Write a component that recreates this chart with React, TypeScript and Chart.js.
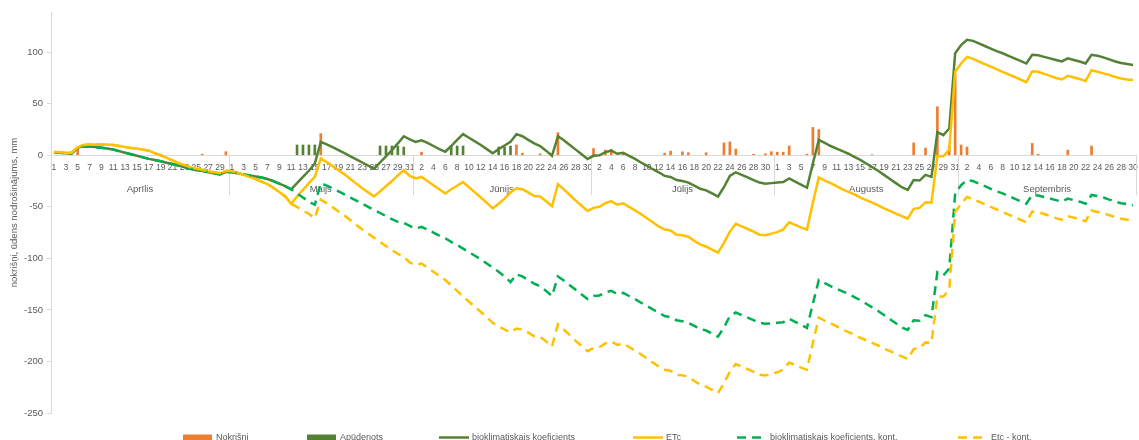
import React, { useEffect, useRef } from 'react';
import { Chart, registerables } from 'chart.js';

Chart.register(...registerables);

const months = ['Aprīlis', 'Maijs', 'Jūnijs', 'Jūlijs', 'Augusts', 'Septembris'];
const monthLengths = [30, 31, 30, 31, 31, 30];
const yTickValues = [-250, -200, -150, -100, -50, 0, 50, 100];
const yAxisTitle = 'nokrišņi, ūdens nodrošinājums, mm';

// Nokrišņi (mm per day), Apr 1 .. Sep 30
const nokrisni = [
  0, 0, 0, 0, 7, 0, 0, 0, 0, 0, 0, 0, 0, 0, 0, 0, 0, 0, 0, 0, 0, 0, 0, 0, 0, 1, 0, 0, 0, 3.5,
  0, 0, 0, 0, 0, 0, 0, 0, 0, 0, 0, 0, 0, 0, 0, 21, 0, 0, 0, 0, 0, 0, 0, 0, 0, 0, 0, 0, 0, 0, 0,
  0, 3, 0, 0, 0, 0, 0, 0, 0, 0, 0, 0, 0, 0, 0, 0, 0, 10, 2, 0, 0, 1.5, 0, 0, 22, 0, 0, 0, 0, 0,
  6.6, 0, 5, 5.8, 0, 2.7, 0, 0, 0, 0, 0, 0, 2, 4, 0, 3.4, 2.5, 0, 0, 2.5, 0, 0, 12, 13, 6, 0, 0, 1, 0, 1.5, 3.5,
  3, 3, 9, 0, 0, 1, 27, 25, 0, 0, 0, 0, 0, 0, 0, 0, 0.5, 0, 0, 0, 0, 0, 0, 12, 0, 7, 0, 47, 0, 9, 78,
  10, 8, 0, 0, 0, 0, 0, 0, 0, 0, 0, 0, 11.5, 1, 0, 0, 0, 0, 5, 0, 0, 0, 9, 0, 0, 0, 0, 0, 0, 0,
];

// Apūdenots (mm per day)
const apudenots = [
  0, 0, 0, 0, 0, 0, 0, 0, 0, 0, 0, 0, 0, 0, 0, 0, 0, 0, 0, 0, 0, 0, 0, 0, 0, 0, 0, 0, 0, 0,
  0, 0, 0, 0, 0, 0, 0, 0, 0, 0, 0, 10, 10, 10, 10, 0, 0, 0, 0, 0, 0, 0, 0, 0, 0, 9, 9, 9, 9, 8, 0,
  0, 0, 0, 0, 0, 0, 9, 9, 9, 0, 0, 0, 0, 0, 8, 8, 9, 0, 0, 0, 0, 0, 0, 0, 0, 0, 0, 0, 0, 0,
  0, 0, 0, 0, 0, 0, 0, 0, 0, 0, 0, 0, 0, 0, 0, 0, 0, 0, 0, 0, 0, 0, 0, 0, 0, 0, 0, 0, 0, 0, 0,
  0, 0, 0, 0, 0, 0, 0, 0, 0, 0, 0, 0, 0, 0, 0, 0, 0, 0, 0, 0, 0, 0, 0, 0, 0, 0, 0, 0, 0, 0, 0,
  0, 0, 0, 0, 0, 0, 0, 0, 0, 0, 0, 0, 0, 0, 0, 0, 0, 0, 0, 0, 0, 0, 0, 0, 0, 0, 0, 0, 0, 0,
];

// bioklimatiskais koeficients
const bio = [
  2.7, 2.5, 2, 1.8, 7.5, 8.8, 8.5, 8, 7.3, 6.5, 5.6, 4, 2.5, 1, -0.5, -2, -3.5, -4.5, -5.8, -7.2, -8.5, -10, -11.5, -13, -14.5, -15, -16.5, -17.5, -18.6, -16,
  -16.5, -17.5, -18.5, -19.5, -20.5, -21.5, -23, -25, -27.5, -30, -33, -27, -21, -15, -8, 13, 10.5, 8, 5, 2, -1, -4, -7, -10, -13, -7, -1, 5, 11.5, 18.5, 15.5,
  13, 14.5, 12, 9, 6, 3.5, 9, 15, 20.5, 17, 13.5, 10, 6, 2, 6, 9.5, 13, 20.5, 18.5, 15, 11.5, 9, 4.5, -0.5, 18.5, 14.5, 10, 5.5, 1, -3.5,
  -0.5, 0, 3, 4.5, 1.5, 2.5, -0.5, -3.5, -7, -10, -13.5, -16.5, -20, -21, -24, -25, -26.5, -29.5, -32.5, -34, -37, -40, -31, -20, -16.5, -19, -21.5, -24, -26.5, -27.5, -27,
  -26.5, -26, -22.5, -25.5, -28.5, -31.5, -8, 15, 12, 9, 6.5, 4, 1.5, -1.5, -4.5, -8, -11.5, -15, -19, -23, -27, -31, -33.5, -24, -24.5, -19, -21, 22.5, 19.5, 26, 99,
  107, 112, 111, 108.5, 106, 103.5, 101, 99, 96.5, 94, 91.5, 89, 97.5, 97, 95.5, 94, 92.5, 91, 94, 92.5, 91, 89, 97.5, 96.5, 95, 93, 91, 89.5, 88.5, 87.5,
];

// ETc
const etc = [
  3.3, 3, 2.5, 2.5, 8, 10, 10.5, 10.5, 10.5, 10.5, 10, 9, 8, 7, 6.5, 5.5, 4.5, 2, 0, -2.5, -5, -7.5, -9.5, -11.5, -13, -14, -15.5, -16.5, -17.5, -15,
  -15.5, -17, -19, -21, -23, -25.5, -28, -31.5, -35.5, -40, -47, -40, -33.5, -27, -21, -3, -6.5, -10.5, -14.5, -18.5, -23, -27.5, -32, -36, -40, -35, -30, -25, -19.5, -14.5, -20,
  -22.5, -21, -25, -29, -33, -37, -33, -29.5, -26, -31, -36, -41, -46, -51.5, -47, -42, -36, -32, -33, -36, -39.5, -40, -44.5, -49.5, -28, -33, -38.5, -44, -49, -54,
  -51, -50, -46.5, -44.5, -48, -46.5, -50, -53.5, -57, -61, -65, -69, -72, -73, -77, -77.5, -79, -83, -86.5, -88.5, -91.5, -94.5, -85, -74, -66.5, -69, -71.5, -74, -77, -77.5, -76,
  -74.5, -72, -65, -67.5, -70, -72, -46, -21.5, -24.5, -27, -30, -33, -35.5, -38, -41, -43.5, -46, -48.5, -51.5, -54, -56.5, -59, -61.5, -52, -51, -45.5, -46, -1, -1, 5.5, 81,
  89, 95.5, 93.5, 91, 88.5, 86, 83.5, 81, 78.5, 76, 73.5, 71, 81.5, 81, 79, 77, 75, 73.5, 77, 75.5, 74, 72, 82.5, 81, 79.5, 78, 76, 74.5, 73.5, 73,
];

// bioklimatiskais koeficients, kont.
const bioKont = [
  2.7, 2.5, 2, 1.8, 7.5, 8.8, 8.5, 8, 7.3, 6.5, 5.6, 4, 2.5, 1, -0.5, -2, -3.5, -4.5, -5.8, -7.2, -8.5, -10, -11.5, -13, -14.5, -15, -16.5, -17.5, -18.6, -16,
  -16.5, -17.5, -18.5, -19.5, -20.5, -21.5, -23, -25, -27.5, -30, -33, -37, -41, -45, -48, -27, -29.5, -32, -35, -38, -41, -44, -47, -50, -53, -56, -59, -62, -64.5, -65.5, -68.5,
  -71, -69.5, -72, -75, -78, -80.5, -84, -87, -90.5, -94, -97.5, -101, -105, -109, -113, -117.5, -123, -115.5, -117.5, -121, -124.5, -127, -131.5, -136.5, -117.5, -121.5, -126, -130.5, -135, -139.5,
  -136.5, -136, -133, -131.5, -134.5, -133.5, -136.5, -139.5, -143, -146, -149.5, -152.5, -156, -157, -160, -161, -162.5, -165.5, -168.5, -170, -173, -176, -167, -156, -152.5, -155, -157.5, -160, -162.5, -163.5, -163,
  -162.5, -162, -158.5, -161.5, -164.5, -167.5, -144, -121, -124, -127, -129.5, -132, -134.5, -137.5, -140.5, -144, -147.5, -151, -155, -159, -163, -167, -169.5, -160, -160.5, -155, -157, -113.5, -116.5, -110, -37,
  -29, -24, -25, -27.5, -30, -32.5, -35, -37, -39.5, -42, -44.5, -47, -38.5, -39, -40.5, -42, -43.5, -45, -42, -43.5, -45, -47, -38.5, -39.5, -41, -43, -45, -46.5, -47.5, -48.5,
];

// Etc - kont.
const etcKont = [
  3.3, 3, 2.5, 2.5, 8, 10, 10.5, 10.5, 10.5, 10.5, 10, 9, 8, 7, 6.5, 5.5, 4.5, 2, 0, -2.5, -5, -7.5, -9.5, -11.5, -13, -14, -15.5, -16.5, -17.5, -15,
  -15.5, -17, -19, -21, -23, -25.5, -28, -31.5, -35.5, -40, -47, -50, -53.5, -57, -61, -43, -46.5, -50.5, -54.5, -58.5, -63, -67.5, -72, -76, -80, -84, -88, -92, -95.5, -98.5, -104,
  -106.5, -105, -109, -113, -117, -121, -126, -131.5, -137, -142, -147, -152, -157, -162.5, -166, -169, -172, -168, -169, -172, -175.5, -176, -180.5, -185.5, -164, -169, -174.5, -180, -185, -190,
  -187, -186, -182.5, -180.5, -184, -182.5, -186, -189.5, -193, -197, -201, -205, -208, -209, -213, -213.5, -215, -219, -222.5, -224.5, -227.5, -230.5, -221, -210, -202.5, -205, -207.5, -210, -213, -213.5, -212,
  -210.5, -208, -201, -203.5, -206, -208, -182, -157.5, -160.5, -163, -166, -169, -171.5, -174, -177, -179.5, -182, -184.5, -187.5, -190, -192.5, -195, -197.5, -188, -187, -181.5, -182, -137, -137, -130.5, -55,
  -47, -40.5, -42.5, -45, -47.5, -50, -52.5, -55, -57.5, -60, -62.5, -65, -54.5, -55, -57, -59, -61, -62.5, -59, -60.5, -62, -64, -53.5, -55, -56.5, -58, -60, -61.5, -62.5, -63,
];

const seriesNames = [
  'Nokrišņi',
  'Apūdenots',
  'bioklimatiskais koeficients',
  'ETc',
  'bioklimatiskais koeficients, kont.',
  'Etc - kont.',
];

const dayLabels = monthLengths.flatMap((n) => Array.from({ length: n }, (_, d) => String(d + 1)));

const FONT = '"Liberation Sans", Arial, sans-serif';
const TEXT = '#595959';
const AXIS = '#d9d9d9';
const C_RAIN = '#ED7D31';
const C_IRR = '#548235';
const C_BIO = '#548235';
const C_ETC = '#FFC000';
const C_BIOK = '#00B050';
const C_ETCK = '#FFC000';
const DASH = [9, 6];

const legendX = [183, 307, 439, 633, 737, 958];

const monthAxisPlugin = {
  id: 'monthAxis',
  beforeDatasetsDraw(chart: any) {
    const { ctx, scales } = chart;
    const xs = scales.x;
    const y0 = scales.y.getPixelForValue(0);
    const w = xs.getPixelForValue(1) - xs.getPixelForValue(0);
    ctx.save();
    ctx.strokeStyle = AXIS;
    ctx.lineWidth = 1;
    ctx.fillStyle = TEXT;
    ctx.font = `9.5px ${FONT}`;
    ctx.textAlign = 'center';
    ctx.textBaseline = 'middle';
    let start = 0;
    months.forEach((m, k) => {
      const end = start + monthLengths[k];
      const xl = xs.getPixelForValue(start) - w / 2;
      const xr = xs.getPixelForValue(end - 1) + w / 2;
      const sx = Math.round(xr) + 0.5;
      ctx.beginPath();
      ctx.moveTo(sx, y0);
      ctx.lineTo(sx, y0 + 40);
      ctx.stroke();
      ctx.fillText(m, (xl + xr) / 2, y0 + 34);
      start = end;
    });
    ctx.restore();
  },
};

const legendPlugin = {
  id: 'customLegend',
  afterDraw(chart: any) {
    const { ctx } = chart;
    const yc = 437.5;
    ctx.save();
    ctx.font = `9px ${FONT}`;
    ctx.textBaseline = 'middle';
    ctx.textAlign = 'left';
    chart.data.datasets.forEach((ds: any, i: number) => {
      const x = legendX[i];
      if (ds.type === 'bar') {
        ctx.fillStyle = ds.backgroundColor;
        ctx.fillRect(x, yc - 3, 29, 6);
      } else {
        ctx.strokeStyle = ds.borderColor;
        ctx.lineWidth = 2.5;
        ctx.setLineDash(ds.borderDash || []);
        ctx.beginPath();
        ctx.moveTo(x, yc);
        ctx.lineTo(x + 30, yc);
        ctx.stroke();
        ctx.setLineDash([]);
      }
      ctx.fillStyle = TEXT;
      ctx.fillText(ds.label, x + 33, yc);
    });
    ctx.restore();
  },
};

export default function App() {
  const ref = useRef<HTMLCanvasElement | null>(null);

  useEffect(() => {
    document.body.style.margin = '0';
    const canvas = ref.current;
    if (!canvas) return;
    const toBar = (arr: number[]) => arr.map((v) => (v ? v : null));
    const chart = new Chart(canvas, {
      type: 'line',
      data: {
        labels: dayLabels,
        datasets: [
          {
            type: 'bar',
            label: seriesNames[0],
            data: toBar(nokrisni),
            backgroundColor: C_RAIN,
            barThickness: 2,
            grouped: false,
            order: 6,
          } as any,
          {
            type: 'bar',
            label: seriesNames[1],
            data: toBar(apudenots),
            backgroundColor: C_IRR,
            barThickness: 2,
            grouped: false,
            order: 5,
          } as any,
          {
            type: 'line',
            label: seriesNames[2],
            data: bio,
            borderColor: C_BIO,
            borderWidth: 2.5,
            pointRadius: 0,
            tension: 0,
            order: 4,
          },
          {
            type: 'line',
            label: seriesNames[3],
            data: etc,
            borderColor: C_ETC,
            borderWidth: 2.5,
            pointRadius: 0,
            tension: 0,
            order: 3,
          },
          {
            type: 'line',
            label: seriesNames[4],
            data: bioKont,
            borderColor: C_BIOK,
            borderWidth: 2.5,
            borderDash: DASH,
            pointRadius: 0,
            tension: 0,
            order: 2,
          },
          {
            type: 'line',
            label: seriesNames[5],
            data: etcKont,
            borderColor: C_ETCK,
            borderWidth: 2.5,
            borderDash: DASH,
            pointRadius: 0,
            tension: 0,
            order: 1,
          },
        ],
      },
      options: {
        responsive: false,
        animation: false,
        devicePixelRatio: 1,
        events: [],
        layout: { padding: { top: 12, right: 3, bottom: 27, left: 0 } },
        plugins: {
          legend: { display: false },
          tooltip: { enabled: false },
        },
        scales: {
          x: {
            type: 'category',
            position: { y: 0 } as any,
            offset: true,
            grid: { display: false, drawTicks: false },
            border: { display: true, color: AXIS, width: 1 },
            ticks: {
              autoSkip: false,
              maxRotation: 0,
              minRotation: 0,
              padding: 7,
              color: TEXT,
              font: { size: 8.5, family: FONT },
              callback: (_v: any, index: number) => (index % 2 === 0 ? dayLabels[index] : ''),
            },
            afterFit: (scale: any) => {
              scale.paddingLeft = 0;
              scale.paddingRight = 0;
            },
          },
          y: {
            type: 'linear',
            min: -250,
            max: 139,
            grid: {
              display: true,
              drawOnChartArea: false,
              drawTicks: true,
              tickLength: 4,
              color: AXIS,
            },
            border: { display: true, color: AXIS, width: 1 },
            ticks: {
              stepSize: 50,
              padding: 4,
              color: TEXT,
              font: { size: 9.5, family: FONT },
            },
            title: {
              display: true,
              text: yAxisTitle,
              color: TEXT,
              font: { size: 9.5, family: FONT },
              padding: { top: 9, bottom: 0 },
            },
            afterBuildTicks: (scale: any) => {
              scale.ticks = yTickValues.map((v) => ({ value: v }));
            },
            afterFit: (scale: any) => {
              scale.width = 51;
            },
          },
        },
      },
      plugins: [monthAxisPlugin, legendPlugin],
    });
    return () => chart.destroy();
  }, []);

  return <canvas ref={ref} width={1139} height={440} style={{ display: 'block' }} />;
}
